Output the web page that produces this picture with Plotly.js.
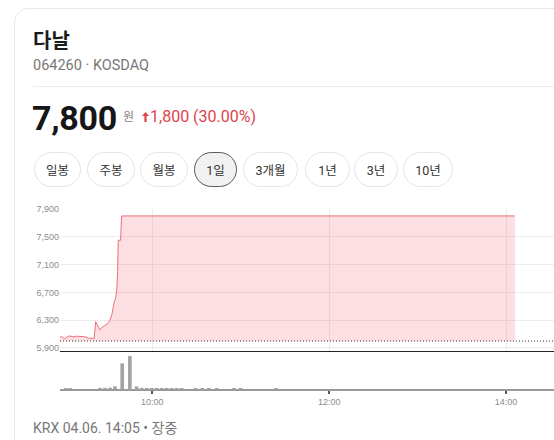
<!DOCTYPE html>
<html>
<head>
<meta charset="utf-8">
<script src="https://cdn.plot.ly/plotly-3.0.1.min.js"></script>
<style>
  html, body { margin:0; padding:0; background:#fff; }
  body { width:554px; height:440px; overflow:hidden; position:relative;
         font-family: Roboto, "Noto Sans CJK KR", sans-serif; }
  .card { position:absolute; left:14px; top:8px; width:620px; height:520px;
          border:1px solid #e8e8e8; border-radius:14px; background:#fff; box-sizing:border-box; }
  .abs { position:absolute; white-space:nowrap; }
  #title { left:33px; top:30px; font-family:"Noto Sans CJK KR", sans-serif; font-weight:700;
           font-size:20px; line-height:20px; color:#1b1b1b; }
  #code { left:33px; top:59px; font-size:14.5px; line-height:14.5px; color:#777; }
  #sep { left:33px; top:86px; width:600px; height:1px; background:#eeeeee; }
  #price { left:32px; top:101px; font-weight:700; font-size:34px; line-height:34px; color:#161616; letter-spacing:-0.3px; }
  #won { left:123px; top:110px; font-family:"Noto Sans CJK KR", sans-serif; font-size:12px; line-height:12px; color:#888; }
  #chg { left:150px; top:109px; font-size:16px; line-height:16px; color:#e0434c; }
  #arrow { left:142px; top:112px; }
  .btn { position:absolute; top:152px; height:35px; box-sizing:border-box; border:1px solid #e4e4e4;
         border-radius:18px; display:flex; align-items:center; justify-content:center;
         font-family:Roboto, "Noto Sans CJK KR", sans-serif; font-size:12.5px; color:#333; background:#fff; }
  .btn.sel { background:#f1f1f1; border:1.5px solid #5a5a5a; }
  #foot { left:33px; top:421px; font-size:14px; line-height:14px; color:#777; }
  #chart { position:absolute; left:0; top:0; width:554px; height:440px; }
</style>
</head>
<body>
<div class="card"></div>
<div class="abs" id="title">다날</div>
<div class="abs" id="code">064260 · KOSDAQ</div>
<div class="abs" id="sep"></div>
<div class="abs" id="price">7,800</div>
<div class="abs" id="won">원</div>
<svg class="abs" id="arrow" width="7" height="10" viewBox="0 0 7 10"><polygon points="3.5,0 7,4 4.6,4 4.6,10 2.4,10 2.4,4 0,4" fill="#e0434c"/></svg>
<div class="abs" id="chg">1,800 (30.00%)</div>

<div class="btn" style="left:34px;width:47px;">일봉</div>
<div class="btn" style="left:87px;width:48px;">주봉</div>
<div class="btn" style="left:140px;width:48px;">월봉</div>
<div class="btn sel" style="left:194px;width:43px;">1일</div>
<div class="btn" style="left:243px;width:55px;">3개월</div>
<div class="btn" style="left:305px;width:45px;">1년</div>
<div class="btn" style="left:354px;width:44px;">3년</div>
<div class="btn" style="left:403px;width:50px;">10년</div>

<div class="abs" id="foot">KRX 04.06. 14:05 • 장중</div>

<div id="chart"></div>

<script>
// ---- data (minutes after 09:00, KRW) ----
const priceTimes = [-2.6, -1.5, 0.3, 1.9, 3.0, 4.8, 6.4, 8.7, 12.1, 14.8, 16.6, 18.4, 20.6, 21.6, 22.9, 24.5, 26.1, 27.9, 29.7, 31.3, 32.8, 33.8, 34.2, 35.1, 36.0, 36.5, 36.7, 36.9, 38.5, 39.2, 306];
const prices     = [6050, 6070, 6030, 6050, 6070, 6070, 6060, 6070, 6060, 6060, 6040, 6040, 6040, 6280, 6230, 6160, 6200, 6220, 6250, 6300, 6400, 6520, 6570, 6610, 6760, 7000, 7240, 7450, 7450, 7800, 7800];
const prevClose  = 6000;
const volTimes   = [1.4, 4.4, 24.5, 27.9, 31.3, 34.7, 39.6, 44.8, 49.4, 52.8, 56.2, 59.6, 63.0, 66.4, 69.7, 73.1, 76.5, 79.9, 89.4, 93.9, 98.4, 103.7, 115.4, 119.9, 144.0];
const volumes    = [28000, 28000, 32000, 32000, 40000, 75000, 740000, 950000, 75000, 32000, 30000, 30000, 30000, 30000, 30000, 30000, 30000, 30000, 28000, 28000, 28000, 28000, 28000, 28000, 28000];
const timeTickVals   = [60, 180, 300];
const timeTickLabels = ["10:00", "12:00", "14:00"];
const priceTickVals   = [5900, 6300, 6700, 7100, 7500, 7900];
const priceTickLabels = ["5,900", "6,300", "6,700", "7,100", "7,500", "7,900"];

const xRange = [-2.6, 332.5];
const tickFont = {family: "Liberation Sans, Arial, sans-serif", size: 9, color: "#8c8c8c"};

const baseTrace = {
  x: [priceTimes[0], priceTimes[priceTimes.length - 1]],
  y: [prevClose, prevClose],
  mode: "lines", line: {width: 0}, hoverinfo: "skip", xaxis: "x", yaxis: "y"
};
const priceTrace = {
  x: priceTimes, y: prices, mode: "lines",
  line: {color: "#ec6f78", width: 1},
  fill: "tonexty", fillcolor: "rgba(245,90,110,0.2)",
  xaxis: "x", yaxis: "y"
};
const volTrace = {
  type: "bar", x: volTimes, y: volumes, width: 2.5,
  marker: {color: "#a3a3a3", line: {width: 0}},
  xaxis: "x2", yaxis: "y2"
};

const layout = {
  width: 554, height: 440,
  margin: {l: 60, r: 0, t: 209, b: 51, pad: 0},
  paper_bgcolor: "rgba(0,0,0,0)", plot_bgcolor: "rgba(0,0,0,0)",
  showlegend: false,
  xaxis: {range: xRange, domain: [0, 1], anchor: "y", tickmode: "array", tickvals: timeTickVals,
          showticklabels: false, ticks: "", showgrid: true, gridcolor: "#ececec", gridwidth: 1,
          showline: true, linecolor: "#222", linewidth: 1.5, zeroline: false},
  yaxis: {domain: [0.2128, 1], range: [5861, 7900], tickmode: "array", tickvals: priceTickVals,
          ticktext: priceTickLabels, showgrid: true, gridcolor: "#ececec", gridwidth: 1,
          zeroline: false, ticks: "", showline: false, tickfont: tickFont},
  xaxis2: {range: xRange, domain: [0, 1], anchor: "y2", tickmode: "array", tickvals: timeTickVals,
           ticktext: timeTickLabels, showgrid: false, showline: true, linecolor: "#9a9a9a", linewidth: 2,
           ticks: "outside", ticklen: 3, tickwidth: 2, tickcolor: "#555", zeroline: false, tickfont: tickFont},
  yaxis2: {domain: [0, 0.1944], range: [0, 1010000], showticklabels: false, showgrid: false,
           zeroline: false, showline: false, ticks: ""},
  shapes: [{type: "line", xref: "paper", x0: 0, x1: 1, yref: "y", y0: prevClose, y1: prevClose,
            line: {color: "#333", width: 1, dash: "1px,2px"}}]
};

Plotly.newPlot("chart", [baseTrace, priceTrace, volTrace], layout, {staticPlot: true, displayModeBar: false});
</script>
</body>
</html>
